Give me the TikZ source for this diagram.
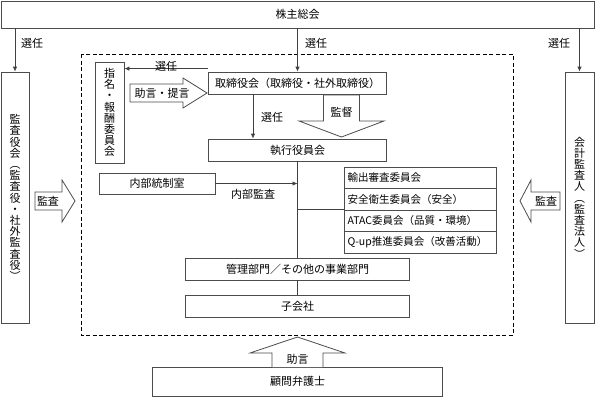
\documentclass[tikz,border=0pt]{standalone}
\usepackage{fontspec}
\newfontfamily\jp{Noto Sans CJK JP}
\usetikzlibrary{arrows.meta,calc}
\begin{document}
\begin{tikzpicture}[x=1pt,y=-1pt,
  line width=0.8pt,
  every node/.style={font=\jp\fontsize{11}{11.2}\selectfont, text=black},
  box/.style={draw=black!70, fill=white, inner sep=0pt, align=center},
  cbox/.style={box, inner xsep=3.5pt, text width=145pt, align=left, minimum height=21.5pt,
    font=\jp\fontsize{10.5}{11}\selectfont},
  lbl/.style={inner sep=1pt},
  arr/.style={draw=black!75, -{Latex[length=5pt,width=4.5pt]}},
  conn/.style={draw=black!75},
  barrow/.style={draw=black!70, fill=white},
  dashbox/.style={draw=black, dash pattern=on 4pt off 2.5pt, line width=1pt}]
\useasboundingbox (0,0) rectangle (595,397);

% dashed company frame
\draw[dashbox] (81,54) rectangle (513,335);

% boxes
\node[box, minimum width=593pt, minimum height=27pt] (top) at (297.5,14.5) {株主総会};
\node[box, minimum width=28pt, minimum height=251pt] (kansa) at (15,197.5)
  {監\\査\\役\\会\\︵\\監\\査\\役\\・\\社\\外\\監\\査\\役\\︶};
\node[box, minimum width=29pt, minimum height=251pt] (kaikei) at (579.5,197.5)
  {会\\計\\監\\査\\人\\︵\\監\\査\\法\\人\\︶};
\node[box, minimum width=29pt, minimum height=101pt] (shimei) at (109.5,112.5)
  {指\\名\\・\\報\\酬\\委\\員\\会};
\node[box, minimum width=178pt, minimum height=22pt] (tori) at (297.5,83) {取締役会（取締役・社外取締役）};
\node[box, minimum width=178pt, minimum height=22pt] (shikko) at (297.5,150) {執行役員会};
\node[box, minimum width=116pt, minimum height=21pt] (naibu) at (157,183.5) {内部統制室};
\node[cbox] (c1) at (420,177.75) {輸出審査委員会};
\node[cbox] (c2) at (420,199.25) {安全衛生委員会（安全）};
\node[cbox] (c3) at (420,220.75) {ATAC委員会（品質・環境）};
\node[cbox] (c4) at (420,242.25) {Q-up推進委員会（改善活動）};
\node[box, minimum width=224pt, minimum height=22pt] (kanri) at (297.5,269) {管理部門／その他の事業部門};
\node[box, minimum width=224pt, minimum height=22pt] (ko) at (297.5,306) {子会社};
\node[box, minimum width=290pt, minimum height=29pt] (komon) at (297.5,381.5) {顧問弁護士};

% connectors
\draw[arr] (top.south -| kansa.north) -- (kansa.north);
\draw[arr] (top.south -| tori.north) -- (tori.north);
\draw[arr] (top.south -| kaikei.north) -- (kaikei.north);
\node[lbl] (s1) at (32,43) {選任};
\node[lbl] (s2) at (316,43) {選任};
\node[lbl] (s3) at (559,43) {選任};

\draw[arr] ([yshift=3pt]tori.north west) -- ([yshift=3pt]tori.north west -| shimei.east);
\node[lbl] (s4) at (166,66) {選任};

\draw[arr] ([xshift=-44.5pt]tori.south) -- ([xshift=-44.5pt]shikko.north);
\node[lbl] (s5) at (272,117) {選任};

\draw[conn] (shikko.south) -- (kanri.north);
\draw[arr] (naibu.east) -- (naibu.east -| shikko.south);
\node[lbl] (nb) at (253,194) {内部監査};
\draw[conn] (c3.north west) -- (c3.north west -| shikko.south);
\draw[conn] (kanri.south) -- (ko.north);

% block arrows
\draw[barrow] (130,84) -- (183,84) -- (183,78) -- (207,93) -- (183,108) -- (183,102) -- (130,102) -- cycle;
\node[lbl] (teigen) at (162,93) {助言・提言};

\draw[barrow] (323.5,95) -- (359.5,95) -- (359.5,121) -- (384,121) -- (341.5,137) -- (299,121) -- (323.5,121) -- cycle;
\node[lbl] (kantoku) at (341.5,112) {監督};

\draw[barrow] (272,367) -- (272,353) -- (250,353) -- (297.5,337) -- (345,353) -- (323,353) -- (323,367);
\node[lbl] (jogen) at (297.5,359) {助言};

\draw[barrow] (35,192) -- (62,192) -- (62,180) -- (75,201) -- (62,222) -- (62,210) -- (35,210) -- cycle;
\node[lbl] (ka1) at (48,201) {監査};

\draw[barrow] (560,192) -- (531,192) -- (531,180) -- (520,201) -- (531,222) -- (531,210) -- (560,210) -- cycle;
\node[lbl] (ka2) at (546,201) {監査};
\end{tikzpicture}
\end{document}
